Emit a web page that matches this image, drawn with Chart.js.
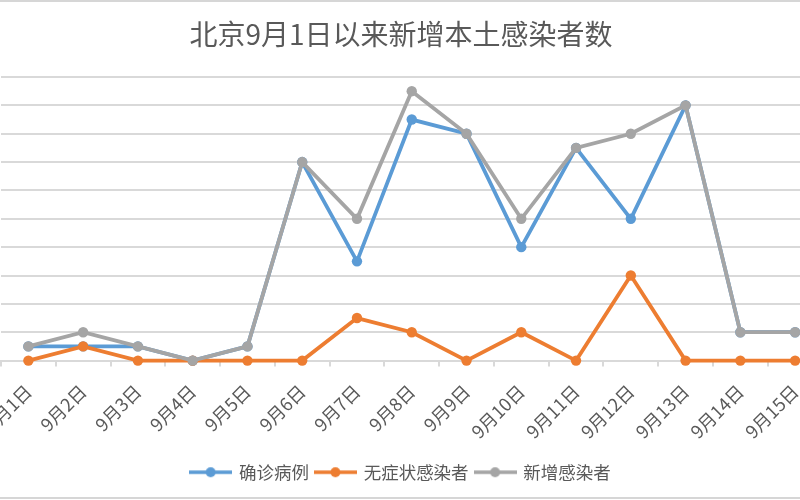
<!DOCTYPE html>
<html>
<head>
<meta charset="utf-8">
<script src="https://cdn.jsdelivr.net/npm/chart.js@4"></script>
<style>
html,body{margin:0;padding:0;background:#fff;}
#frame{position:relative;width:800px;height:500px;overflow:hidden;background:#fff;}
#wrap{position:absolute;left:-59.5px;top:0;width:920px;height:500px;}
#topline{position:absolute;left:0;top:0;width:800px;height:2px;background:#d6d6d6;}
#botline{position:absolute;left:0;top:497px;width:800px;height:2px;background:#d6d6d6;}
</style>
</head>
<body>
<div id="frame">
  <div id="wrap"><canvas id="c" width="920" height="500"></canvas></div>
  <div id="topline"></div>
  <div id="botline"></div>
</div>
<script>
const categories = ['9月1日','9月2日','9月3日','9月4日','9月5日','9月6日','9月7日','9月8日','9月9日','9月10日','9月11日','9月12日','9月13日','9月14日','9月15日'];
const confirmed = [1,1,1,0,1,14,7,17,16,8,15,10,18,2,2];
const asymptomatic = [0,1,0,0,0,0,3,2,0,2,0,6,0,0,0];
const totalNew = [1,2,1,0,1,14,10,19,16,10,15,16,18,2,2];
const seriesNames = ['确诊病例','无症状感染者','新增感染者'];
const colors = ['#5B9BD5','#ED7D31','#A5A5A5'];
const yTicks = {min:0, max:20, step:2};

function legendIcon(color){
  const c = document.createElement('canvas');
  c.width = 43; c.height = 12;
  const x = c.getContext('2d');
  x.strokeStyle = color; x.lineWidth = 3.5;
  x.beginPath(); x.moveTo(0,6); x.lineTo(43,6); x.stroke();
  x.fillStyle = color;
  x.beginPath(); x.arc(21.5,6,5,0,Math.PI*2); x.fill();
  return c;
}
const icons = colors.map(legendIcon);

function ds(label, data, color, order){
  return {label, data, borderColor: color, backgroundColor: color,
    borderWidth: 3.8, pointRadius: 5.2, pointHoverRadius: 5.2,
    pointBackgroundColor: color, pointBorderColor: color, pointBorderWidth: 0,
    tension: 0, order: order, clip: false};
}

new Chart(document.getElementById('c'), {
  type: 'line',
  data: {
    labels: categories,
    datasets: [
      ds(seriesNames[0], confirmed, colors[0], 3),
      ds(seriesNames[1], asymptomatic, colors[1], 2),
      ds(seriesNames[2], totalNew, colors[2], 1)
    ]
  },
  options: {
    responsive: false,
    animation: false,
    layout: {padding: {left: 38.5, right: 38.5, top: 0, bottom: 9}},
    plugins: {
      title: {display: true, text: '北京9月1日以来新增本土感染者数', color: '#595959',
        font: {family: '"Noto Sans CJK SC", sans-serif', size: 28, weight: 'normal'},
        padding: {top: 18, bottom: 25.4}},
      legend: {position: 'bottom',
        labels: {color: '#595959', usePointStyle: true, pointStyleWidth: 39,
          font: {family: '"Noto Sans CJK SC", sans-serif', size: 17.5},
          padding: 7,
          sort: (a,b) => a.datasetIndex - b.datasetIndex,
          generateLabels: function(chart){
            const items = Chart.defaults.plugins.legend.labels.generateLabels(chart);
            items.forEach(it => { it.pointStyle = icons[it.datasetIndex]; it.lineWidth = 0; });
            return items;
          }}},
      tooltip: {enabled: false}
    },
    scales: {
      x: {
        offset: true,
        grid: {offset: true, drawOnChartArea: false, drawTicks: true, tickLength: 6, color: '#d9d9d9', lineWidth: 2},
        border: {display: true, color: '#d9d9d9', width: 2},
        ticks: {autoSkip: false, minRotation: 45, maxRotation: 45, color: '#595959', padding: 14,
          font: {family: '"Noto Sans CJK SC", sans-serif', size: 18}}
      },
      y: {
        min: yTicks.min, max: yTicks.max,
        afterFit: s => { s.width = 21.5; },
        grid: {color: '#d9d9d9', lineWidth: 2, drawTicks: false},
        border: {display: false},
        ticks: {display: false, stepSize: yTicks.step}
      }
    }
  }
});
</script>
</body>
</html>
